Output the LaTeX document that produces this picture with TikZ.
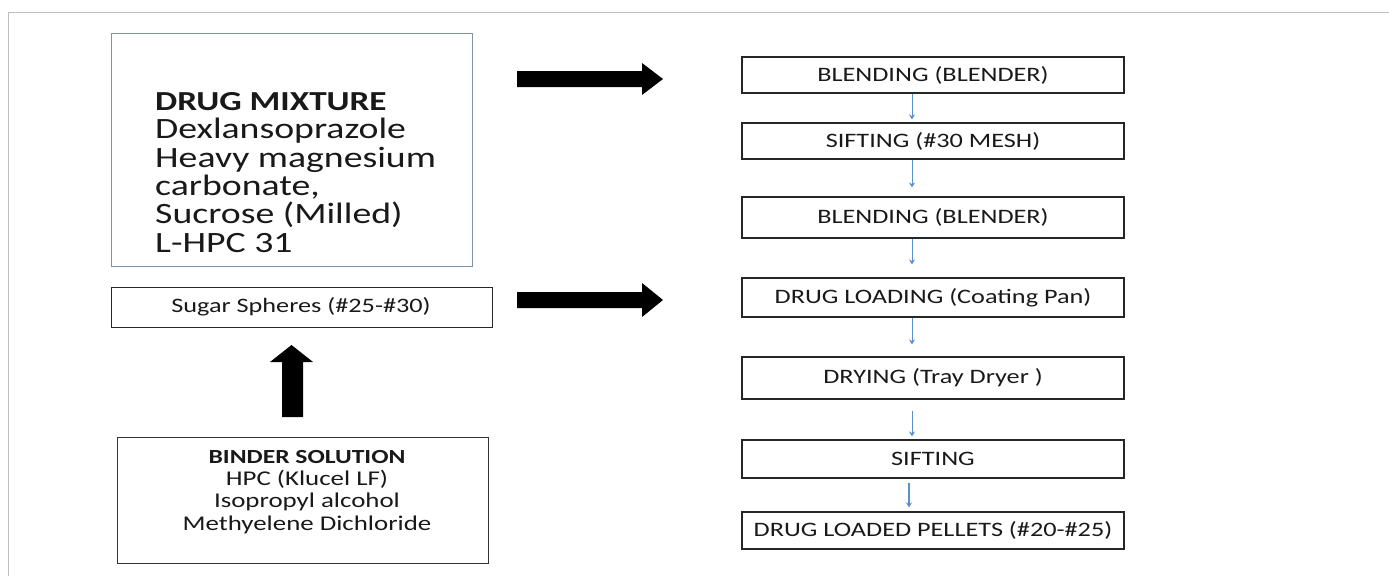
\documentclass[tikz,border=0pt]{standalone}
\usepackage{fontspec}
\setmainfont[FakeStretch=1.28]{Carlito}
\usetikzlibrary{arrows.meta}
\definecolor{framegrey}{RGB}{190,190,190}
\definecolor{mixborder}{RGB}{125,148,168}
\definecolor{flowblue}{RGB}{91,145,200}
\definecolor{txt}{RGB}{25,25,25}
\tikzset{
  stepbox/.style={draw=black!85, line width=1.1pt, minimum width=382pt, minimum height=#1, inner sep=0pt, text=txt, font=\fontsize{20.5}{24}\selectfont},
  flow/.style={draw=flowblue, line width=0.9pt, -{Stealth[length=5pt,width=6pt]}},
  bigarrow/.style={fill=black, draw=none}
}
\begin{document}
\begin{tikzpicture}[x=1pt,y=-1pt]
\useasboundingbox (0,0) rectangle (1389,576);
% frame
\draw[framegrey, line width=1pt] (8,576) -- (8,12) -- (1389,12);
% drug mixture box
\node[draw=mixborder, line width=1.2pt, minimum width=361pt, minimum height=233pt, anchor=north west, inner sep=0pt] (mix) at (111,33) {};
\node[anchor=north west, inner sep=0pt, align=left, text=txt, font=\fontsize{29.5}{28.4}\selectfont] (mixtxt) at (155,92)
 {{\fontsize{27.5}{28.4}\selectfont\textbf{DRUG MIXTURE}}\\Dexlansoprazole\\Heavy magnesium\\carbonate,\\Sucrose (Milled)\\L-HPC 31};
% sugar spheres
\node[draw=black!85, line width=1.1pt, minimum width=381pt, minimum height=40pt, anchor=north west, inner sep=0pt] (sugar) at (111,287) {};
\node[text=txt, font=\fontsize{20.5}{24}\selectfont, inner sep=0pt] (sugartxt) at (301,307) {Sugar Spheres (\#25-\#30)};
% binder solution
\node[draw=black!80, line width=1.3pt, minimum width=371pt, minimum height=126pt, anchor=north west, inner sep=0pt] (binder) at (117,437) {};
\node[anchor=north, inner sep=0pt, align=center, text=txt, font=\fontsize{21}{22.3}\selectfont] (bindertxt) at (307,450)
 {{\fontsize{20}{22.3}\selectfont\textbf{BINDER SOLUTION}}\\HPC (Klucel LF)\\Isopropyl alcohol\\Methyelene Dichloride};
% up arrow
\fill[bigarrow] (282,417) -- (282,362) -- (270,362) -- (291.5,345) -- (313,362) -- (303,362) -- (303,417) -- cycle;
% right block arrows
\fill[bigarrow] (517,71) -- (642,71) -- (642,63) -- (663,79) -- (642,95) -- (642,87) -- (517,87) -- cycle;
\fill[bigarrow] (517,292) -- (642,292) -- (642,283) -- (663,300) -- (642,317) -- (642,308) -- (517,308) -- cycle;
% process steps
\node[stepbox=36pt] (b1) at (933,75) {BLENDING (BLENDER)};
\node[stepbox=36pt] (b2) at (933,141) {SIFTING (\#30 MESH)};
\node[stepbox=41pt] (b3) at (933,217.5) {BLENDING (BLENDER)};
\node[stepbox=39pt] (b4) at (933,297.5) {DRUG LOADING (Coating Pan)};
\node[stepbox=42pt] (b5) at (933,378) {DRYING (Tray Dryer )};
\node[stepbox=38pt] (b6) at (933,459) {SIFTING};
\node[stepbox=37pt] (b7) at (933,530.5) {DRUG LOADED PELLETS (\#20-\#25)};
\coordinate (ax) at (912,0);
\coordinate (ax2) at (909,0);
\draw[flow, shorten >=3pt] (b1.south -| ax) -- (b2.north -| ax);
\draw[flow, shorten >=9pt] (b2.south -| ax) -- (b3.north -| ax);
\draw[flow, shorten >=13pt] (b3.south -| ax) -- (b4.north -| ax);
\draw[flow, shorten >=12pt] (b4.south -| ax) -- (b5.north -| ax);
\draw[flow, shorten <=11pt, shorten >=3pt] (b5.south -| ax) -- (b6.north -| ax);
\draw[flow, line width=1.6pt, shorten <=4pt, shorten >=4pt] (b6.south -| ax2) -- (b7.north -| ax2);
\end{tikzpicture}
\end{document}
